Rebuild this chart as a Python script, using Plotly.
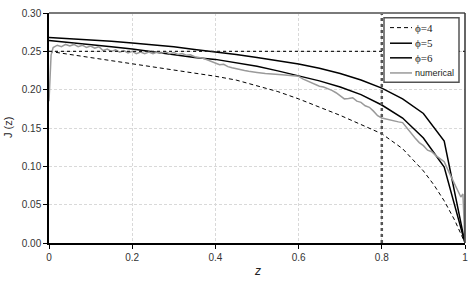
import plotly.graph_objects as go

# ---- data ----
z_phi = [0.0, 0.05, 0.1, 0.15, 0.2, 0.25, 0.3, 0.35, 0.4, 0.45, 0.5,
         0.55, 0.6, 0.65, 0.7, 0.75, 0.8, 0.85, 0.9, 0.95, 1.0]
j_phi5 = [0.264, 0.2615, 0.259, 0.256, 0.253, 0.2495, 0.246, 0.242, 0.2395, 0.235, 0.2305,
          0.2245, 0.218, 0.2115, 0.2035, 0.1935, 0.180, 0.163, 0.137, 0.099, 0.0]
j_phi6 = [0.268, 0.2665, 0.265, 0.263, 0.261, 0.2585, 0.256, 0.2525, 0.2495, 0.246, 0.242,
          0.238, 0.2335, 0.228, 0.221, 0.2125, 0.202, 0.188, 0.169, 0.133, 0.0]

z_phi4 = [0.0, 0.05, 0.1, 0.15, 0.2, 0.25, 0.3, 0.35, 0.4, 0.45, 0.5, 0.55, 0.6,
          0.65, 0.7, 0.75, 0.8, 0.85, 0.9, 0.925, 0.95, 0.975, 1.0]
j_phi4 = [0.250, 0.246, 0.242, 0.238, 0.234, 0.2295, 0.2255, 0.2215, 0.2175, 0.2125, 0.2055,
          0.1975, 0.188, 0.1775, 0.1665, 0.1545, 0.1425, 0.123, 0.094, 0.076, 0.055, 0.030, 0.0]

z_num = [0.0, 0.005, 0.01, 0.02, 0.03, 0.04, 0.05, 0.06, 0.07, 0.08, 0.09, 0.10,
         0.11, 0.12, 0.13, 0.14, 0.15, 0.16, 0.17, 0.18, 0.19, 0.20, 0.21, 0.22,
         0.23, 0.24, 0.25, 0.26, 0.27, 0.28, 0.29, 0.30, 0.31, 0.32, 0.33, 0.34,
         0.35, 0.36, 0.37, 0.38, 0.39, 0.40, 0.41, 0.42, 0.43, 0.44, 0.45, 0.46,
         0.47, 0.48, 0.49, 0.50, 0.52, 0.54, 0.56, 0.58, 0.60, 0.61, 0.62, 0.63,
         0.64, 0.65, 0.66, 0.67, 0.68, 0.69, 0.70, 0.71, 0.72, 0.73, 0.74, 0.75,
         0.76, 0.77, 0.78, 0.79, 0.80, 0.81, 0.82, 0.83, 0.84, 0.85, 0.86, 0.87,
         0.88, 0.89, 0.90, 0.91, 0.92, 0.93, 0.94, 0.95, 0.96, 0.97, 0.98, 0.985,
         0.99, 0.995, 1.0]
j_num = [0.185, 0.245, 0.255, 0.258, 0.256, 0.259, 0.257, 0.259, 0.256, 0.258, 0.255, 0.257,
         0.254, 0.256, 0.251, 0.253, 0.250, 0.252, 0.249, 0.251, 0.248, 0.250, 0.247, 0.249,
         0.247, 0.249, 0.247, 0.249, 0.2475, 0.2495, 0.247, 0.2485, 0.246, 0.247, 0.245, 0.2455,
         0.243, 0.242, 0.241, 0.239, 0.2365, 0.235, 0.2325, 0.233, 0.230, 0.2285, 0.227, 0.2265,
         0.225, 0.224, 0.2235, 0.2225, 0.221, 0.2205, 0.2195, 0.2185, 0.2175, 0.214, 0.2115, 0.209,
         0.206, 0.2045, 0.2035, 0.2015, 0.199, 0.196, 0.192, 0.188, 0.1885, 0.1895, 0.185, 0.1835,
         0.179, 0.177, 0.172, 0.166, 0.163, 0.1615, 0.160, 0.159, 0.158, 0.157, 0.150, 0.143,
         0.137, 0.131, 0.127, 0.121, 0.119, 0.114, 0.110, 0.106, 0.094, 0.083, 0.071, 0.066,
         0.060, 0.064, 0.0]

series_names = ["ϕ=4", "ϕ=5", "ϕ=6", "numerical"]
y_ticks = [0.0, 0.05, 0.10, 0.15, 0.20, 0.25, 0.30]
x_ticks = [0, 0.2, 0.4, 0.6, 0.8, 1]
x_ticklabels = ["0", "0.2", "0.4", "0.6", "0.8", "1"]
ref_j = 0.25
ref_z = 0.8

FONT = "Liberation Sans, Arial, sans-serif"
SERIF = "Liberation Serif, Times New Roman, serif"

# plot-area geometry in pixels (for legend placement)
L, R, T, B = 49, 465, 7, 243
def px(x):
    return (x - L) / (R - L)
def py(y):
    return (B - y) / (B - T)

styles = [
    dict(color="black", width=1, dash="4px,3px"),
    dict(color="black", width=1.5),
    dict(color="black", width=1.5),
    dict(color="#9a9a9a", width=1.5),
]

fig = go.Figure()
for name, xs, ys, st in zip(series_names,
                            [z_phi4, z_phi, z_phi, z_num],
                            [j_phi4, j_phi5, j_phi6, j_num],
                            styles):
    fig.add_trace(go.Scatter(x=xs, y=ys, mode="lines", name=name, line=st,
                             showlegend=False))

# reference dotted lines
fig.add_shape(type="line", xref="paper", yref="y", x0=0, x1=1, y0=ref_j, y1=ref_j,
              line=dict(color="#222222", width=1.2, dash="dot"), layer="above")
fig.add_shape(type="line", xref="x", yref="paper", x0=ref_z, x1=ref_z, y0=0, y1=1,
              line=dict(color="#555555", width=2.5, dash="dot"), layer="above")
# frame: grey top, dark right
fig.add_shape(type="line", xref="paper", yref="paper", x0=0, x1=1, y0=1, y1=1,
              line=dict(color="#7a7a7a", width=2), layer="above")
fig.add_shape(type="line", xref="paper", yref="paper", x0=1, x1=1, y0=0, y1=1,
              line=dict(color="#333333", width=1.5), layer="above")

# legend box (drawn manually to match the compact original)
fig.add_shape(type="rect", xref="paper", yref="paper",
              x0=px(384), x1=px(459), y0=py(12), y1=py(78),
              line=dict(color="#555555", width=1.5), fillcolor="white", layer="above")
leg_y = [22, 38, 53, 68.5]
for name, st, yy in zip(series_names, styles, leg_y):
    fig.add_shape(type="line", xref="paper", yref="paper",
                  x0=px(390), x1=px(412), y0=py(yy), y1=py(yy), line=st, layer="above")
    is_phi = name.startswith("ϕ")
    fig.add_annotation(text=name, xref="paper", yref="paper", x=px(412.5), y=py(yy),
                       xanchor="left", yanchor="middle", showarrow=False,
                       font=dict(family=SERIF if is_phi else FONT,
                                 size=11 if is_phi else 9, color="#222222"))

fig.update_layout(
    width=475, height=282,
    margin=dict(l=L, r=475 - R, t=T, b=282 - B),
    paper_bgcolor="white", plot_bgcolor="white",
    font=dict(family=FONT, size=10, color="#333333"),
    showlegend=False,
    xaxis=dict(range=[0, 1], tickvals=x_ticks, ticktext=x_ticklabels,
               showgrid=True, gridcolor="#d9d9d9", griddash="3px,2px", gridwidth=1,
               showline=True, linecolor="black", linewidth=2,
               ticks="outside", ticklen=4, tickcolor="black",
               zeroline=False, tickfont=dict(size=10)),
    yaxis=dict(range=[0, 0.3], tickvals=y_ticks, tickformat=".2f",
               showgrid=True, gridcolor="#d9d9d9", griddash="3px,2px", gridwidth=1,
               showline=True, linecolor="black", linewidth=1.5,
               ticks="outside", ticklen=4, tickcolor="black",
               zeroline=False, tickfont=dict(size=10)),
)

fig.add_annotation(text="J (z)", xref="paper", yref="paper", x=px(8), y=0.5,
                   xanchor="center", yanchor="middle", textangle=-90, showarrow=False,
                   font=dict(family=FONT, size=11, color="#222222"))
fig.add_annotation(text="<i>z</i>", xref="paper", yref="paper", x=0.5, y=py(281),
                   xanchor="center", yanchor="bottom", showarrow=False,
                   font=dict(family=FONT, size=12, color="#222222"))

fig.write_html("out.html")
